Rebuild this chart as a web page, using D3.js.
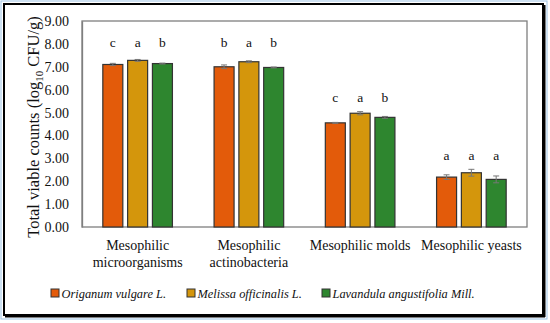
<!DOCTYPE html>
<html><head><meta charset="utf-8">
<script src="https://cdn.jsdelivr.net/npm/d3@7"></script>
<style>body{margin:0;background:#fff}svg{display:block}</style>
</head><body>
<script>
const categories = [["Mesophilic","microorganisms"],["Mesophilic","actinobacteria"],["Mesophilic molds"],["Mesophilic yeasts"]];
const seriesNames = ["Origanum vulgare L.","Melissa officinalis L.","Lavandula angustifolia Mill."];
const origanum = [7.10, 7.00, 4.55, 2.18];
const melissa  = [7.28, 7.22, 4.97, 2.37];
const lavandula= [7.14, 6.97, 4.79, 2.08];
const errOriganum = [0.05, 0.08, 0.02, 0.10];
const errMelissa  = [0.04, 0.04, 0.07, 0.15];
const errLavandula= [0.02, 0.02, 0.04, 0.15];
const lettersOriganum = ["c","b","c","a"];
const lettersMelissa  = ["a","a","a","a"];
const lettersLavandula= ["b","b","b","a"];
const letterLevel = [8.02, 8.02, 5.62, 3.12];
const yTicks = [0,1,2,3,4,5,6,7,8,9];
const colors = ["#E35B0A","#D4960C","#2E862F"];

const W=550,H=323;
const svg=d3.select("body").append("svg").attr("width",W).attr("height",H);
const serif="'Liberation Serif','DejaVu Serif',serif";
// outer frame
svg.append("rect").attr("x",1).attr("y",1).attr("width",546).attr("height",318).attr("fill","none").attr("stroke","#9DC3E6").attr("stroke-width",1);
svg.append("rect").attr("x",4).attr("y",4).attr("width",539).attr("height",311).attr("fill","none").attr("stroke","#000").attr("stroke-width",2);
svg.append("line").attr("x1",544.5).attr("x2",544.5).attr("y1",5).attr("y2",317).attr("stroke","#000").attr("stroke-width",2);
svg.append("line").attr("x1",5).attr("x2",545).attr("y1",316.5).attr("y2",316.5).attr("stroke","#000").attr("stroke-width",2);

const m={l:82,r:527,t:21,b:227};
const x0=d3.scaleBand().domain(d3.range(categories.length)).range([m.l,m.r]).paddingInner(0).paddingOuter(0);
const y=d3.scaleLinear().domain([0,9]).range([m.b,m.t]);
const barW=20, gap=4.8;

// plot box
svg.append("rect").attr("x",m.l).attr("y",m.t).attr("width",m.r-m.l).attr("height",m.b-m.t).attr("fill","none").attr("stroke","#7f7f7f").attr("stroke-width",1.3);

// y axis
const yAx=svg.append("g").attr("transform",`translate(${m.l},0)`)
 .call(d3.axisLeft(y).tickValues(yTicks).tickFormat(d3.format(".2f")).tickSize(0).tickPadding(13));
yAx.select(".domain").attr("stroke","#7f7f7f").attr("stroke-width",1.3);
yAx.selectAll("text").attr("font-family",serif).attr("font-size",14).attr("fill","#111");

svg.append("text").attr("transform",`translate(39,127) rotate(-90)`).attr("text-anchor","middle")
 .attr("font-family",serif).attr("font-size",16.5).attr("fill","#111")
 .call(t=>{t.append("tspan").text("Total viable counts (log");t.append("tspan").attr("font-size",11).attr("dy",4).text("10");t.append("tspan").attr("dy",-4).text(" CFU/g)");});

const series=[origanum,melissa,lavandula];
const errs=[errOriganum,errMelissa,errLavandula];
const letters=[lettersOriganum,lettersMelissa,lettersLavandula];
series.forEach((vals,s)=>{
  const g=svg.append("g");
  const xc=i=>x0(i)+x0.bandwidth()/2+(s-1)*(barW+gap);
  g.selectAll("rect").data(vals).join("rect")
   .attr("x",(d,i)=>xc(i)-barW/2).attr("y",d=>y(d)).attr("width",barW).attr("height",d=>y(0)-y(d))
   .attr("fill",colors[s]).attr("stroke","#333").attr("stroke-width",1.2);
  vals.forEach((d,i)=>{
    const e=errs[s][i], cx=xc(i);
    g.append("line").attr("x1",cx).attr("x2",cx).attr("y1",y(d+e)).attr("y2",y(d-e)).attr("stroke","#777").attr("stroke-width",1);
    [d+e,d-e].forEach(v=>g.append("line").attr("x1",cx-3).attr("x2",cx+3).attr("y1",y(v)).attr("y2",y(v)).attr("stroke","#777").attr("stroke-width",1));
    g.append("text").attr("x",cx).attr("y",y(letterLevel[i])+4).attr("text-anchor","middle")
     .attr("font-family",serif).attr("font-size",13.5).attr("fill","#111").text(letters[s][i]);
  });
});

// x labels
categories.forEach((lines,i)=>{
  const t=svg.append("text").attr("x",x0(i)+x0.bandwidth()/2).attr("y",250).attr("text-anchor","middle")
   .attr("font-family",serif).attr("font-size",14).attr("fill","#111");
  lines.forEach((ln,k)=>t.append("tspan").attr("x",x0(i)+x0.bandwidth()/2).attr("dy",k?17:0).text(ln));
});

// legend
const legX=[51,187,322];
seriesNames.forEach((n,s)=>{
  svg.append("rect").attr("x",legX[s]).attr("y",289).attr("width",8).attr("height",8).attr("fill",colors[s]).attr("stroke","#333").attr("stroke-width",1);
  svg.append("text").attr("x",legX[s]+10.5).attr("y",297.5).attr("font-family",serif).attr("font-style","italic").attr("font-size",12.4).attr("fill","#111").text(n);
});
</script>
</body></html>
